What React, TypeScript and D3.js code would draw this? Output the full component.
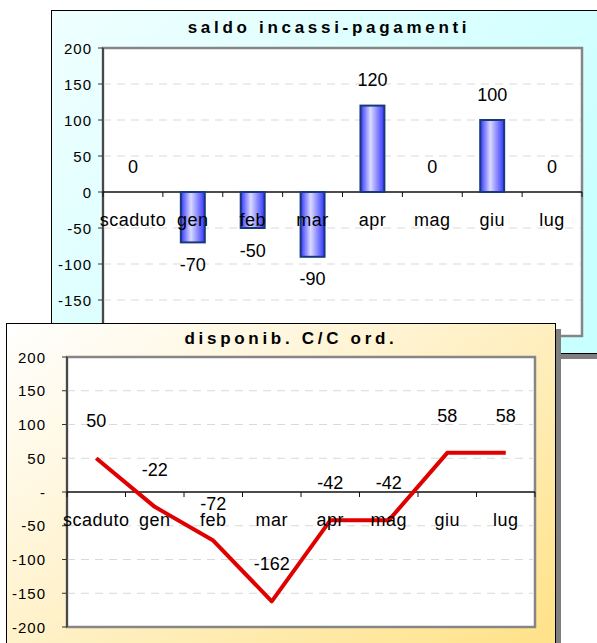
import { useEffect, useRef } from "react"
import * as d3 from "d3"

// chart data
const categories = ["scaduto", "gen", "feb", "mar", "apr", "mag", "giu", "lug"]
const saldo = [0, -70, -50, -90, 120, 0, 100, 0]
const disponib = [50, -22, -72, -162, -42, -42, 58, 58]
const yTicks = [200, 150, 100, 50, 0, -50, -100, -150, -200]
const titleSaldo = "saldo incassi-pagamenti"
const titleDisponib = "disponib. C/C ord."

const FONT = "'Liberation Sans', Arial, sans-serif"

type Box = { x: number; y: number; w: number; h: number }
type Plot = { l: number; r: number; t: number; b: number }

export default function App() {
  const svgRef = useRef<SVGSVGElement | null>(null)

  useEffect(() => {
    if (!svgRef.current) return
    const svg = d3.select(svgRef.current)
    svg.selectAll("*").remove()

    const defs = svg.append("defs")

    const grad = (id: string, x2: number, y2: number, stops: [number, string][]) => {
      const g = defs
        .append("linearGradient")
        .attr("id", id)
        .attr("x1", 0)
        .attr("y1", 0)
        .attr("x2", x2)
        .attr("y2", y2)
      stops.forEach(([o, c]) => g.append("stop").attr("offset", o).attr("stop-color", c))
    }
    grad("bgTop", 1, 0.6, [[0, "#f0ffff"], [1, "#c8ffff"]])
    grad("bgBot", 1, 0.9, [[0, "#ffffff"], [0.35, "#fff5d8"], [1, "#ffe28a"]])
    grad("barFill", 1, 0, [[0, "#3434ff"], [0.42, "#dadaff"], [1, "#3434ff"]])

    // panel frame, shadow, plot area, grid, axes
    const panel = (box: Box, plot: Plot, bg: string, title: string, titleX: number,
      titleY: number, labelRight: number, zeroLabel: string) => {
      const g = svg.append("g")

      g.append("rect")
        .attr("x", box.x + 6)
        .attr("y", box.y + 6)
        .attr("width", box.w)
        .attr("height", box.h)
        .attr("fill", "#7f7f7f")

      g.append("rect")
        .attr("x", box.x + 0.5)
        .attr("y", box.y + 0.5)
        .attr("width", box.w)
        .attr("height", box.h)
        .attr("fill", `url(#${bg})`)
        .attr("stroke", "#000")

      g.append("text")
        .attr("x", titleX)
        .attr("y", titleY)
        .attr("text-anchor", "middle")
        .attr("font-family", FONT)
        .attr("font-weight", "bold")
        .attr("font-size", 17)
        .attr("letter-spacing", 3.7)
        .text(title)

      const x = d3
        .scaleBand<string>()
        .domain(categories)
        .range([plot.l, plot.r])
        .padding(0)

      const y = d3.scaleLinear().domain([-200, 200]).range([plot.b, plot.t])

      g.append("rect")
        .attr("x", plot.l)
        .attr("y", plot.t)
        .attr("width", plot.r - plot.l)
        .attr("height", plot.b - plot.t)
        .attr("fill", "#fff")
        .attr("stroke", "#868686")
        .attr("stroke-width", 2.5)

      // dashed gridlines
      g.append("g")
        .selectAll("line")
        .data(yTicks.filter(d => d !== 0 && Math.abs(d) !== 200))
        .join("line")
        .attr("x1", plot.l)
        .attr("x2", plot.r - 2)
        .attr("y1", d => y(d))
        .attr("y2", d => y(d))
        .attr("stroke", "#d9d9d9")
        .attr("stroke-dasharray", "8,6")

      // y axis
      const ya = g.append("g")
      ya.append("line")
        .attr("x1", plot.l)
        .attr("x2", plot.l)
        .attr("y1", plot.t)
        .attr("y2", plot.b)
        .attr("stroke", "#333")
        .attr("stroke-width", 1.5)
      ya.selectAll("line.tk")
        .data(yTicks)
        .join("line")
        .attr("class", "tk")
        .attr("x1", plot.l - 5)
        .attr("x2", plot.l)
        .attr("y1", d => y(d))
        .attr("y2", d => y(d))
        .attr("stroke", "#333")
      ya.selectAll("text")
        .data(yTicks)
        .join("text")
        .attr("x", labelRight)
        .attr("y", d => y(d) + 5.5)
        .attr("text-anchor", "end")
        .attr("font-family", FONT)
        .attr("font-size", 15)
        .attr("letter-spacing", 1)
        .text(d => (d === 0 ? zeroLabel : String(d)))

      // x axis line and tick marks at band edges
      const xa = g.append("g")
      xa.append("line")
        .attr("x1", plot.l)
        .attr("x2", plot.r)
        .attr("y1", y(0))
        .attr("y2", y(0))
        .attr("stroke", "#111")
        .attr("stroke-width", 1.5)
      xa.selectAll("line.tk")
        .data([...categories.map(c => x(c) ?? 0), plot.r])
        .join("line")
        .attr("class", "tk")
        .attr("x1", d => d)
        .attr("x2", d => d)
        .attr("y1", y(0))
        .attr("y2", y(0) + 5)
        .attr("stroke", "#111")

      return { g, x, y }
    }

    const xLabels = (g: any, x: d3.ScaleBand<string>, y: d3.ScaleLinear<number, number>) => {
      g.append("g")
        .selectAll("text")
        .data(categories)
        .join("text")
        .attr("x", (d: string) => (x(d) ?? 0) + x.bandwidth() / 2)
        .attr("y", y(0) + 34)
        .attr("text-anchor", "middle")
        .attr("font-family", FONT)
        .attr("font-size", 18)
        .attr("letter-spacing", 0.5)
        .text((d: string) => d)
    }

    // top chart: bars
    const top = panel(
      { x: 51, y: 10, w: 560, h: 343 },
      { l: 103, r: 582, t: 48, b: 336 },
      "bgTop",
      titleSaldo,
      329,
      33,
      92,
      "0"
    )
    const bw = top.x.bandwidth() * 0.4
    top.g.append("g")
      .selectAll("rect")
      .data(saldo.map((v, i) => ({ c: categories[i], v })).filter(d => d.v !== 0))
      .join("rect")
      .attr("x", d => (top.x(d.c) ?? 0) + (top.x.bandwidth() - bw) / 2)
      .attr("y", d => top.y(Math.max(0, d.v)))
      .attr("width", bw)
      .attr("height", d => Math.abs(top.y(d.v) - top.y(0)))
      .attr("fill", "url(#barFill)")
      .attr("stroke", "#163a78")
      .attr("stroke-width", 2)
    top.g.append("g")
      .selectAll("text")
      .data(saldo.map((v, i) => ({ c: categories[i], v })))
      .join("text")
      .attr("x", d => (top.x(d.c) ?? 0) + top.x.bandwidth() / 2)
      .attr("y", d => (d.v >= 0 ? top.y(d.v) - 19.5 : top.y(d.v) + 28.5))
      .attr("text-anchor", "middle")
      .attr("font-family", FONT)
      .attr("font-size", 18)
      .text(d => String(d.v))
    xLabels(top.g, top.x, top.y)

    // bottom chart: line
    const bot = panel(
      { x: 6, y: 323, w: 549, h: 340 },
      { l: 67, r: 535, t: 357, b: 627 },
      "bgBot",
      titleDisponib,
      291,
      344,
      46,
      "-"
    )
    const line = d3
      .line<number>()
      .x((_, i) => (bot.x(categories[i]) ?? 0) + bot.x.bandwidth() / 2)
      .y(d => bot.y(d))
    bot.g.append("path")
      .datum(disponib)
      .attr("fill", "none")
      .attr("stroke", "#e00000")
      .attr("stroke-width", 4)
      .attr("stroke-linejoin", "round")
      .attr("d", line)
    bot.g.append("g")
      .selectAll("text")
      .data(disponib)
      .join("text")
      .attr("x", (_, i) => (bot.x(categories[i]) ?? 0) + bot.x.bandwidth() / 2)
      .attr("y", d => bot.y(d) - 31)
      .attr("text-anchor", "middle")
      .attr("font-family", FONT)
      .attr("font-size", 18)
      .text(d => String(d))
    xLabels(bot.g, bot.x, bot.y)
  }, [])

  return (
    <svg
      ref={svgRef}
      width={597}
      height={643}
      style={{ position: "absolute", left: 0, top: 0, background: "#fff" }}
    />
  )
}
